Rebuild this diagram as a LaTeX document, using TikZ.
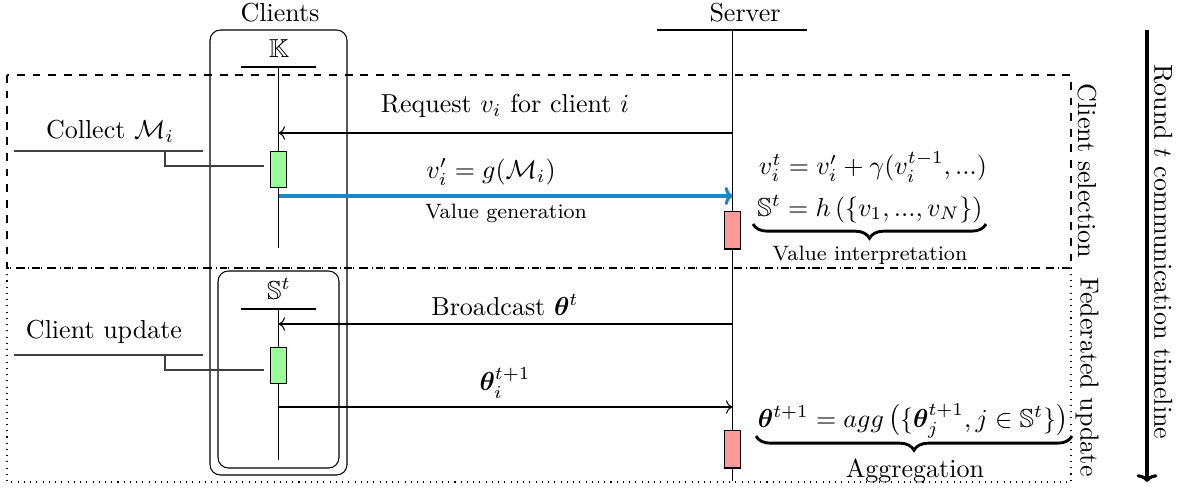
\documentclass[tikz,border=0pt]{standalone}
\usepackage{amsmath,amssymb,bm}
\usetikzlibrary{arrows.meta,decorations.pathreplacing}
\definecolor{arrowblue}{RGB}{22,137,201}
\begin{document}
\begin{tikzpicture}[x=0.3846pt,y=-0.3846pt,
  actg/.style={draw, fill=green!40, inner sep=0pt, minimum width=5.8pt, minimum height=14.2pt},
  actr/.style={draw, fill=red!40, inner sep=0pt, minimum width=6.5pt, minimum height=14.6pt},
  frame/.style={rounded corners=4pt},
  msg/.style={->},
  lead/.style={draw=black!75},
  small/.style={font=\footnotesize},
  ubrace/.style={decorate, decoration={brace, mirror, amplitude=5.5pt}, line width=1.1pt}]
\useasboundingbox (0,0) rectangle (1180,496);

% phase frames
\draw[dashed] (7,75) rectangle (1071,268);
\draw[dotted] (7,268) rectangle (1071,482);

% clients frames
\draw[frame] (210,30) rectangle (347,475);
\draw[frame] (218,271) rectangle (339,468);

% headers
\node (clientslbl) at (280,13) {Clients};
\node (serverlbl) at (745,13) {Server};
\node (K) at (279,49) {$\mathbb{K}$};
\coordinate (Kl) at (241,67); \coordinate (Kr) at (316,67);
\draw (Kl) -- (Kr);
\node (S) at (279,289) {$\mathbb{S}^t$};
\coordinate (Sl) at (241,309); \coordinate (Sr) at (316,309);
\draw (Sl) -- (Sr);
\coordinate (srvl) at (657,30); \coordinate (srvr) at (807,30);
\draw (srvl) -- (srvr);

% server lifeline
\coordinate (srvtop) at (732.5,30); \coordinate (srvbot) at (732.5,481);
\draw (srvtop) -- (srvbot);

% activation boxes
\node[actg] (g1) at (278.5,169.5) {};
\node[actg] (g2) at (278.5,365.5) {};
\node[actr] (r1) at (732.5,230) {};
\node[actr] (r2) at (732.5,449) {};

% client lifelines
\coordinate (c1top) at (278.5,67); \coordinate (c1bot) at (278.5,248);
\coordinate (c2top) at (278.5,309); \coordinate (c2bot) at (278.5,460);
\draw (c1top) -- (g1.north); \draw (g1.south) -- (c1bot);
\draw (c2top) -- (g2.north); \draw (g2.south) -- (c2bot);

% client selection messages
\coordinate (reqS) at (732.5,133); \coordinate (reqC) at (278.5,133);
\draw[msg] (reqS) -- (reqC);
\node (req) at (505,106) {Request $v_i$ for client $i$};
\coordinate (valC) at (278.5,196); \coordinate (valS) at (732.5,196);
\draw[line width=1.2pt, draw=arrowblue, -{To[length=3pt,width=7pt]}] (valC) -- (valS);
\node (vgen) at (491,172) {$v_i' = g(\mathcal{M}_i)$};
\node[small] (vgenlbl) at (506,213) {Value generation};

% collect
\node (collect) at (110,131) {Collect $\mathcal{M}_i$};
\coordinate (cl1) at (14,151); \coordinate (cl2) at (203,151);
\coordinate (cl3) at (165,151); \coordinate (cl4) at (264,166);
\draw[lead] (cl1) -- (cl2);
\draw[lead] (cl3) |- (cl4);

% server equations
\node (eq1) at (873,167) {$v_i^t = v_i' + \gamma(v_i^{t-1}, ...)$};
\node[anchor=base] (eq2) at (870,216) {$\mathbb{S}^t = h\left(\{v_1, ..., v_N\}\right)$};
\coordinate (b1l) at (753,224); \coordinate (b1r) at (986,224);
\draw[ubrace] (b1l) -- (b1r);
\node[small] (eq2lbl) at (870,255) {Value interpretation};

% federated update messages
\coordinate (bcS) at (732.5,324); \coordinate (bcC) at (278.5,324);
\draw[msg] (bcS) -- (bcC);
\node (bc) at (505,305) {Broadcast $\bm{\theta}^t$};
\coordinate (upC) at (278.5,407); \coordinate (upS) at (732.5,407);
\draw[msg] (upC) -- (upS);
\node (up) at (505,383) {$\bm{\theta}_i^{t+1}$};

% client update
\node (cupd) at (104,332) {Client update};
\coordinate (cu1) at (14,355); \coordinate (cu2) at (203,355);
\coordinate (cu3) at (165,355); \coordinate (cu4) at (264,370);
\draw[lead] (cu1) -- (cu2);
\draw[lead] (cu3) |- (cu4);

% aggregation
\node[anchor=base] (eq3) at (913,427) {$\bm{\theta}^{t+1} = agg\left(\{\bm{\theta}_j^{t+1}, j \in \mathbb{S}^t\}\right)$};
\coordinate (b2l) at (756,436); \coordinate (b2r) at (1072,436);
\draw[ubrace] (b2l) -- (b2r);
\node (agg) at (915,471) {Aggregation};

% side labels
\node[rotate=-90] (cs) at (1087,171) {Client selection};
\node[rotate=-90] (fu) at (1087,377) {Federated update};
\node[rotate=-90] (rt) at (1163,252) {Round $t$ communication timeline};
\coordinate (tlTop) at (1147,30); \coordinate (tlBot) at (1147,482);
\draw[line width=1.2pt, -{To[length=3pt,width=8pt]}] (tlTop) -- (tlBot);
\end{tikzpicture}
\end{document}
